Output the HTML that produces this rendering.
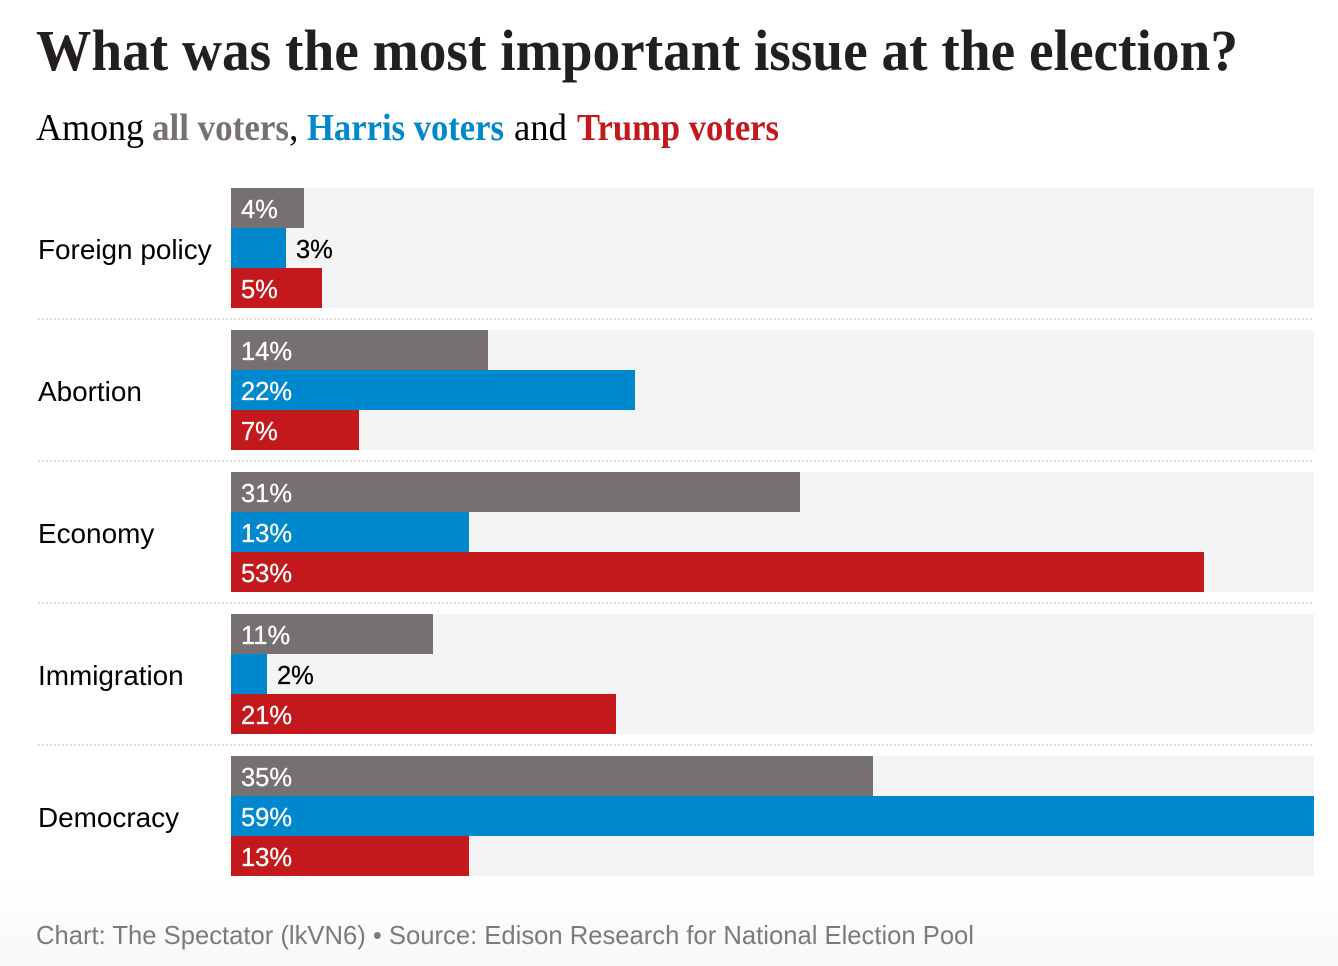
<!DOCTYPE html>
<html lang="en">
<head>
<meta charset="utf-8">
<title>What was the most important issue at the election?</title>
<style>
html,body{margin:0;padding:0;background:#fff;}
body{width:1338px;height:966px;overflow:hidden;}
svg{display:block;}
.serif{font-family:"Liberation Serif",serif;}
.sans{font-family:"Liberation Sans",sans-serif;}
</style>
</head>
<body>
<svg id="chart" xmlns="http://www.w3.org/2000/svg" width="1338" height="966" viewBox="0 0 1338 966">
  <defs>
    <linearGradient id="fade" x1="0" y1="0" x2="0" y2="1">
      <stop offset="0" stop-color="#ffffff"/>
      <stop offset="1" stop-color="#f8f8f8"/>
    </linearGradient>
  </defs>
  <rect x="0" y="880" width="1338" height="86" fill="url(#fade)"/>
  <text class="serif" x="36" y="70" font-size="58" font-weight="700" fill="#231f20" textLength="1202" lengthAdjust="spacingAndGlyphs">What was the most important issue at the election?</text>
  <g class="serif" font-size="38">
    <text x="36" y="140" fill="#000" textLength="108" lengthAdjust="spacingAndGlyphs">Among</text>
    <text x="152" y="140" fill="#767170" font-weight="700" textLength="137" lengthAdjust="spacingAndGlyphs">all voters</text>
    <text x="289" y="140" fill="#000">,</text>
    <text x="307" y="140" fill="#0088cf" font-weight="700" textLength="197" lengthAdjust="spacingAndGlyphs">Harris voters</text>
    <text x="514" y="140" fill="#000" textLength="53" lengthAdjust="spacingAndGlyphs">and</text>
    <text x="577" y="140" fill="#c4191c" font-weight="700" textLength="202" lengthAdjust="spacingAndGlyphs">Trump voters</text>
  </g>
  <g id="plot"></g>
  <text class="sans" x="36" y="944" font-size="26" fill="#7b7b7b" textLength="938" lengthAdjust="spacingAndGlyphs">Chart: The Spectator (lkVN6) • Source: Edison Research for National Election Pool</text>
</svg>
<script>
const categories = ["Foreign policy", "Abortion", "Economy", "Immigration", "Democracy"];
const allVoters = [4, 14, 31, 11, 35];
const harrisVoters = [3, 22, 13, 2, 59];
const trumpVoters = [5, 7, 53, 21, 13];
const seriesNames = ["all", "harris", "trump"];
const seriesColors = ["#767170", "#0088cf", "#c4191c"];
const domainMax = 59;

const NS = "http://www.w3.org/2000/svg";
const plot = document.getElementById("plot");
const plotLeft = 231, plotRight = 1314, plotTop = 188, groupStep = 142, rowH = 40;
const labelInsideMin = 4;

function xScale(v) { return Math.floor((v / domainMax) * (plotRight - plotLeft) + 0.19); }
function groupY(i) { return plotTop + i * groupStep; }
function make(tag, attrs) {
  const el = document.createElementNS(NS, tag);
  for (const k in attrs) el.setAttribute(k, attrs[k]);
  plot.appendChild(el);
  return el;
}

const allSeries = [allVoters, harrisVoters, trumpVoters];
categories.forEach(function (cat, i) {
  const top = groupY(i);
  const slug = cat.toLowerCase().replace(/\s+/g, "-");

  const track = make("rect", { x: plotLeft, y: top, width: plotRight - plotLeft, height: rowH * allSeries.length, fill: "#f4f4f4" });
  
  

  const label = make("text", { x: 38, y: top + 71, "font-size": 27.9, fill: "#000", class: "sans" });
  label.textContent = cat;
  
  

  allSeries.forEach(function (series, s) {
    const v = series[i];
    const y = top + s * rowH;
    const w = xScale(v);
    const bar = make("rect", { x: plotLeft, y: y, width: w, height: rowH, fill: seriesColors[s] });
    
    

    const inside = v >= labelInsideMin;
    const val = make("text", {
      x: inside ? plotLeft + 10 : plotLeft + w + 10,
      y: y + 30,
      "font-size": 25.5,
      fill: inside ? "#fff" : "#000",
      stroke: inside ? "#fff" : "#000",
      "stroke-width": 0.3,
      class: "sans"
    });
    val.textContent = v + "%";
    
    
  });

  if (i < categories.length - 1) {
    const sep = make("line", { x1: 38, x2: plotRight, y1: top + 131, y2: top + 131, stroke: "#dcdcdc", "stroke-width": 2, "stroke-dasharray": "2 2" });
    
    
  }
});
</script>
</body>
</html>
